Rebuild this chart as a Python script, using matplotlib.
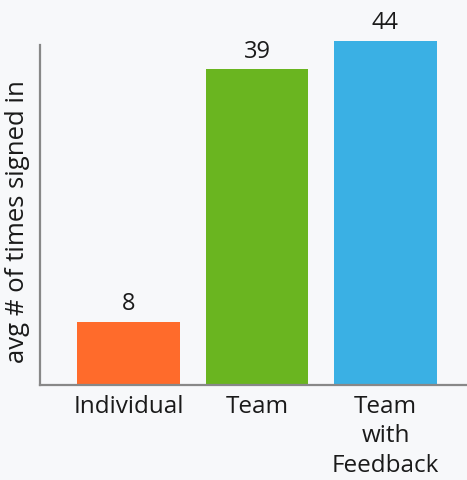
import matplotlib.pyplot as plt

categories = ['Individual', 'Team', 'Team\nwith\nFeedback']
labels = [8, 39, 44]
# bar heights as drawn in the picture (the Team bar sits taller than its label)
heights = [8.06, 40.4, 44]
colors = ['#FF6B2B', '#6AB520', '#3AB0E4']

bg = '#F7F8FA'
plt.rcParams['font.family'] = ['Open Sans', 'DejaVu Sans']

fig = plt.figure(figsize=(4.67, 4.8), dpi=100, facecolor=bg)
ax = fig.add_axes([40 / 467, 95 / 480, 427 / 467, 344 / 480], facecolor=bg)

x = range(len(heights))
ax.bar(x, heights, width=0.8, color=colors, clip_on=False)
for xi, h, lab in zip(x, heights, labels):
    ax.annotate(str(lab), (xi, h), xytext=(0, 4), textcoords='offset points',
                ha='center', va='bottom', fontsize=17, color='#1a1a1a')

ax.set_xlim(-88.5 / 128.5, (467 - 128.5) / 128.5)
ax.set_ylim(0, 44)
ax.set_xticks(list(x))
ax.set_xticklabels(categories, fontsize=17.5, color='#1a1a1a', linespacing=1.3)
ax.tick_params(axis='x', length=0, pad=7)
ax.set_yticks([])
ax.set_ylabel('avg # of times signed in', fontsize=18.5, color='#1a1a1a')
ax.yaxis.set_label_coords(-0.023, 0.474)

for s in ['top', 'right']:
    ax.spines[s].set_visible(False)
for s in ['left', 'bottom']:
    ax.spines[s].set_color('#888888')
    ax.spines[s].set_linewidth(1.6)
ax.spines['left'].set_bounds(0, 43.5)

fig.savefig('out.png', dpi=100, facecolor=bg)
